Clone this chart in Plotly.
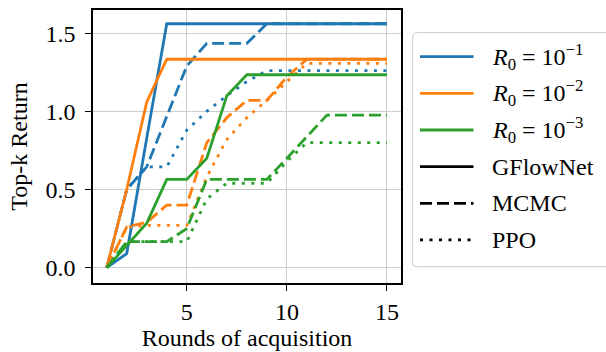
import plotly.graph_objects as go

rounds = list(range(1, 16))

# R0 = 1e-1 (blue)
gfn_r1 = [0, 0.09, 0.83, 1.56, 1.56, 1.56, 1.56, 1.56, 1.56, 1.56, 1.56, 1.56, 1.56, 1.56, 1.56]
mcmc_r1 = [0, 0.50, 0.645, 0.97, 1.29, 1.435, 1.435, 1.435, 1.56, 1.56, 1.56, 1.56, 1.56, 1.56, 1.56]
ppo_r1 = [0, 0.50, 0.645, 0.645, 0.88, 1.0, 1.10, 1.19, 1.26, 1.26, 1.26, 1.26, 1.26, 1.26, 1.26]

# R0 = 1e-2 (orange)
gfn_r2 = [0, 0.50, 1.06, 1.333, 1.333, 1.333, 1.333, 1.333, 1.333, 1.333, 1.333, 1.333, 1.333, 1.333, 1.333]
mcmc_r2 = [0, 0.26, 0.29, 0.40, 0.40, 0.80, 0.96, 1.07, 1.07, 1.22, 1.333, 1.333, 1.333, 1.333, 1.333]
ppo_r2 = [0, 0.26, 0.27, 0.27, 0.27, 0.58, 0.82, 0.96, 1.07, 1.19, 1.307, 1.307, 1.307, 1.307, 1.307]

# R0 = 1e-3 (green)
gfn_r3 = [0, 0.145, 0.285, 0.565, 0.565, 0.70, 1.10, 1.234, 1.234, 1.234, 1.234, 1.234, 1.234, 1.234, 1.234]
mcmc_r3 = [0, 0.166, 0.166, 0.166, 0.25, 0.565, 0.565, 0.565, 0.565, 0.70, 0.84, 0.976, 0.976, 0.976, 0.976]
ppo_r3 = [0, 0.166, 0.166, 0.166, 0.166, 0.44, 0.54, 0.54, 0.54, 0.68, 0.80, 0.80, 0.80, 0.80, 0.80]

x_ticks = [5, 10, 15]
y_ticks = [0, 0.5, 1.0, 1.5]

r0_labels = ["<i>R</i><sub>0</sub> = 10<sup>−1</sup>",
             "<i>R</i><sub>0</sub> = 10<sup>−2</sup>",
             "<i>R</i><sub>0</sub> = 10<sup>−3</sup>"]
method_labels = ["GFlowNet", "MCMC", "PPO"]
colors = ["#1f77b4", "#ff7f0e", "#2ca02c"]
dashes = ["solid", "12px,5px", "3px,6.5px"]

series = [
    [gfn_r1, mcmc_r1, ppo_r1],
    [gfn_r2, mcmc_r2, ppo_r2],
    [gfn_r3, mcmc_r3, ppo_r3],
]

FONT = "Liberation Serif"
LW = 2.8
W, H = 606, 352
ML, MR, MT, MB = 93, 205, 10, 69
PW, PH = W - ML - MR, H - MT - MB

fig = go.Figure()
for ci, group in enumerate(series):
    for mi, vals in enumerate(group):
        fig.add_trace(go.Scatter(
            x=rounds, y=vals, mode="lines",
            line=dict(color=colors[ci], width=LW, dash=dashes[mi]),
            name=f"{method_labels[mi]} R0=1e-{ci + 1}",
            showlegend=False, hoverinfo="skip",
        ))

# ---- legend (drawn in paper coordinates, outside the plot area) ----
def px(x):
    return (x - ML) / PW


def py(y):
    return (H - MB - y) / PH


box_l, box_r, box_t, box_b, rad = 412.7, 640, 32.7, 266.7, 4
path = (f"M{px(box_l + rad)},{py(box_t)} L{px(box_r)},{py(box_t)} "
        f"L{px(box_r)},{py(box_b)} L{px(box_l + rad)},{py(box_b)} "
        f"Q{px(box_l)},{py(box_b)} {px(box_l)},{py(box_b - rad)} "
        f"L{px(box_l)},{py(box_t + rad)} Q{px(box_l)},{py(box_t)} {px(box_l + rad)},{py(box_t)} Z")
shapes = [dict(type="path", xref="paper", yref="paper", path=path,
               line=dict(color="#cccccc", width=1), fillcolor="white", layer="above")]
annotations = []

legend_entries = ([(lab, colors[i], "solid") for i, lab in enumerate(r0_labels)] +
                  [(lab, "black", dashes[i]) for i, lab in enumerate(method_labels)])
row0, row_step = 56.7, 36.65
for k, (lab, col, dsh) in enumerate(legend_entries):
    yy = row0 + k * row_step
    shapes.append(dict(type="line", xref="paper", yref="paper",
                       x0=px(420), x1=px(473.5), y0=py(yy), y1=py(yy),
                       line=dict(color=col, width=LW, dash=dsh), layer="above"))
    annotations.append(dict(xref="paper", yref="paper", x=px(490), y=py(yy),
                            xanchor="left", yanchor="middle", showarrow=False,
                            text=lab, font=dict(family=FONT, size=24, color="black")))

axis_common = dict(
    showline=True, mirror=True, linecolor="black", linewidth=1.5,
    ticks="outside", ticklen=6, tickwidth=1.2, tickcolor="black",
    showgrid=True, gridcolor="#cccccc", gridwidth=1,
    zeroline=False, automargin=False,
    tickfont=dict(family=FONT, size=24, color="black"),
    title_font=dict(family=FONT, size=24, color="black"),
)

fig.update_layout(
    template="none",
    width=W, height=H,
    margin=dict(l=ML, r=MR, t=MT, b=MB, autoexpand=False),
    paper_bgcolor="white", plot_bgcolor="white",
    font=dict(family=FONT, size=24, color="black"),
    showlegend=False,
    xaxis=dict(range=[0.315, 15.7], tickvals=x_ticks,
               title=dict(text="Rounds of acquisition", standoff=4), **axis_common),
    yaxis=dict(range=[-0.098, 1.648], tickvals=y_ticks, tickformat=".1f",
               ticklabelstandoff=5,
               title=dict(text="Top-k Return", standoff=11), **axis_common),
    shapes=shapes,
    annotations=annotations,
)

fig.write_html("out.html", config={"displayModeBar": False},
               post_script="document.body.style.margin='0';")
